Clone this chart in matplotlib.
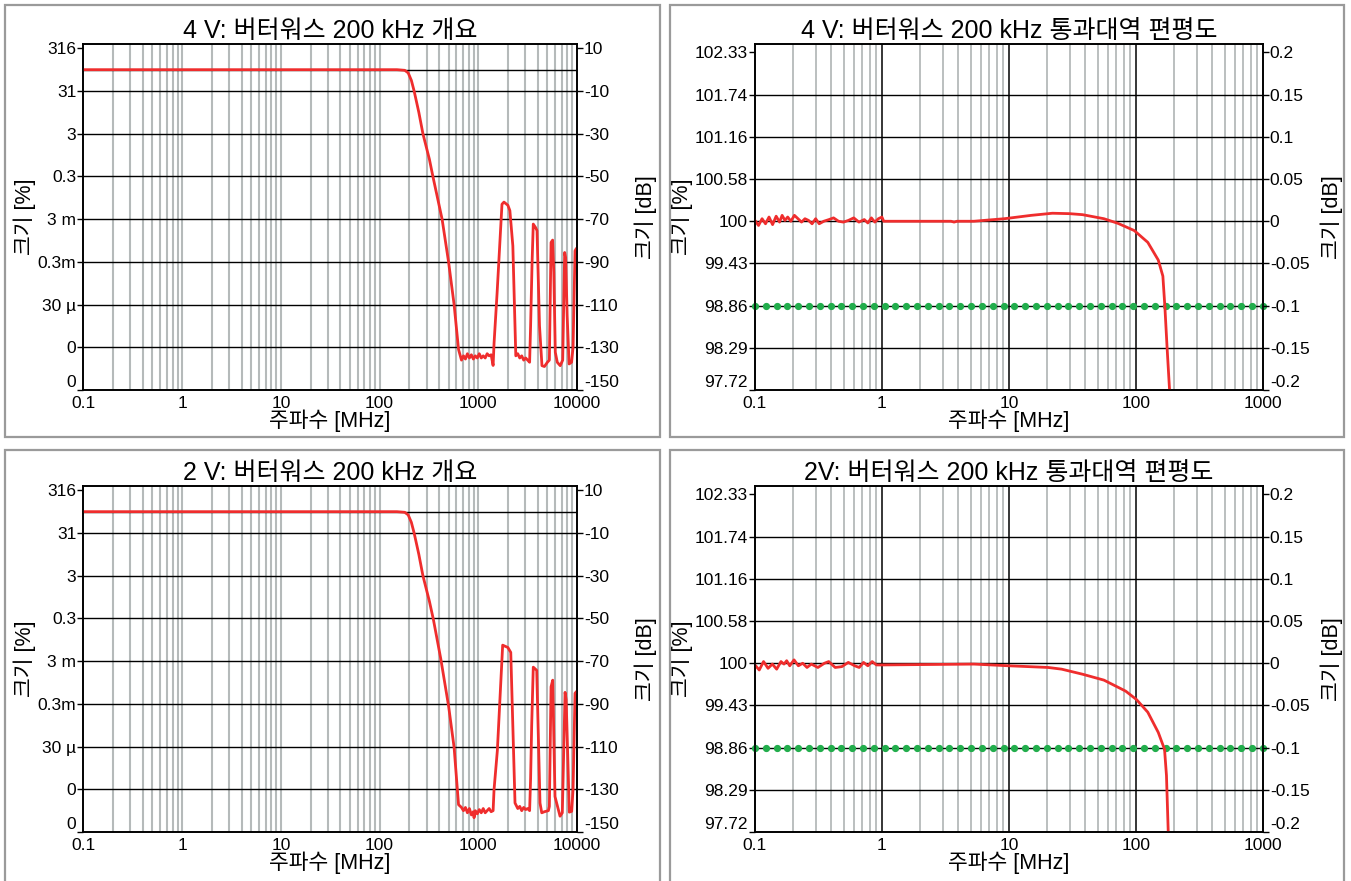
import numpy as np
import matplotlib
matplotlib.use("Agg")
from matplotlib import pyplot as plt
from matplotlib.patches import Rectangle

plt.rcParams['font.family'] = ['Liberation Sans', 'Noto Sans CJK KR']
plt.rcParams['axes.unicode_minus'] = False

# overview charts: frequency [MHz] vs magnitude [dB]
ov_ticks_db = [10, -10, -30, -50, -70, -90, -110, -130, -150]
ov_ticks_pct = ['316', '31', '3', '0.3', '3 m', '0.3m', '30 µ', '0', '0']
ov_xticks = [0.1, 1, 10, 100, 1000, 10000]
ov_xlabels = ['0.1', '1', '10', '100', '1000', '10000']

f_ov_4v = [0.1, 150, 180, 195, 210, 224, 250, 275, 320, 347, 430, 500, 569, 631, 676,
           708, 741, 776, 813, 851, 891, 933, 977, 1023, 1072, 1122, 1175, 1230, 1288, 1349, 1413,
           1445, 1549, 1738, 1820, 1995, 2089, 2239, 2399,
           2512, 2630, 2754, 2884, 3020, 3162, 3311,
           3388, 3508, 3606, 3802, 3936, 4169, 4416, 4677, 5012, 5248,
           5458, 5662, 5821, 6026, 6310, 6761, 7161,
           7499, 7674, 7943, 8318, 8810, 9120, 9550, 9772]
db_ov_4v = [0, 0, -0.3, -1.5, -5, -10, -20, -30, -42, -50, -70, -90, -110, -131, -136,
            -134, -135.5, -133, -135, -133.5, -135.5, -134, -135, -133, -135, -134, -135, -133, -134, -133.5, -138.5,
            -128, -105, -63, -62, -63.5, -66, -82.5, -134,
            -133, -135, -134, -136, -135, -136, -137,
            -120, -90, -72.3, -73.9, -75.4, -119.9, -138.6, -139, -137, -136,
            -80.9, -79.8, -95, -132.3, -137, -138.6, -136,
            -85.6, -88, -115, -137.8, -137, -130, -84.8, -84]

f_ov_2v = [0.1, 150, 180, 195, 210, 224, 250, 275, 320, 351, 417, 501, 569, 631, 676,
           708, 741, 776, 813, 851, 891, 906, 933, 977, 1023, 1072, 1122, 1175, 1230, 1288, 1349, 1413,
           1445, 1560, 1766, 1995, 2133, 2355,
           2512, 2630, 2754, 2884, 3020, 3162, 3311,
           3388, 3475, 3606, 3908, 4217, 4395, 4677, 5129, 5248,
           5458, 5675, 5984, 6730, 7096,
           7568, 7762, 8356, 8831, 9120, 9550, 9772]
db_ov_2v = [0, 0, -0.3, -1.5, -5, -10, -20, -30, -42, -50.5, -68.9, -91.2, -110.4, -137.2, -138.5,
            -140, -138.5, -141, -139, -142, -140.5, -143.3, -140, -141.5, -139.5, -141, -139, -141, -140, -139, -140.5, -140,
            -130, -111.9, -62.5, -63.6, -65.9, -136.4,
            -139, -138, -140, -138.5, -139.5, -139, -140,
            -125, -100, -72.8, -74.3, -136.4, -141, -140.5, -140, -138,
            -82, -78.9, -133.4, -142.6, -141,
            -84.6, -88, -140.7, -140.3, -130, -85, -84.5]

# passband flatness charts
fl_ticks_db = [0.2, 0.15, 0.1, 0.05, 0, -0.05, -0.1, -0.15, -0.2]
fl_ticks_pct = ['102.33', '101.74', '101.16', '100.58', '100', '99.43', '98.86', '98.29', '97.72']
fl_ticks_db_lbl = ['0.2', '0.15', '0.1', '0.05', '0', '-0.05', '-0.1', '-0.15', '-0.2']
fl_xticks = [0.1, 1, 10, 100, 1000]
fl_xlabels = ['0.1', '1', '10', '100', '1000']
flat_limit_db = -0.1

f_fl_4v = [0.1, 0.1067, 0.1138, 0.1211, 0.1291, 0.1377, 0.1469, 0.1563, 0.1637, 0.1722, 0.1811,
           0.1919, 0.2046, 0.2183, 0.2328, 0.2477, 0.2642, 0.2818, 0.3006, 0.3206, 0.3483, 0.3828,
           0.4159, 0.455, 0.4977, 0.5445, 0.5998, 0.6592, 0.7261, 0.7745, 0.826, 0.879, 0.9376, 1.0,
           1.033, 3.5, 3.7, 3.9, 5.3, 9.2, 15, 22, 30, 38, 56, 72, 97, 124, 150, 163, 169, 176, 184, 190]
db_fl_4v = [0.001, -0.005, 0.003, -0.003, 0.005, -0.004, 0.006, -0.001, 0.007, 0.001, 0.005,
            0.0, 0.007, 0.003, -0.001, 0.003, 0.001, -0.003, 0.003, -0.003, 0.0, 0.002,
            0.004, 0.0, -0.001, 0.001, 0.004, -0.001, 0.002, -0.002, 0.004, -0.001, 0.003, 0.005,
            0.0, 0.0, -0.001, 0.0, 0.0, 0.003, 0.007, 0.0095, 0.009, 0.0078, 0.003, -0.0024, -0.011,
            -0.025, -0.046, -0.065, -0.101, -0.15, -0.2, -0.25]

f_fl_2v = [0.1, 0.1081, 0.1169, 0.1268, 0.1371, 0.1483, 0.1603, 0.1694, 0.1778, 0.1879, 0.2032,
           0.2198, 0.2377, 0.257, 0.278, 0.3133, 0.3524, 0.3811, 0.4285, 0.4831, 0.5433, 0.6109,
           0.6622, 0.7161, 0.7745, 0.8375, 0.9057, 1.0,
           5.3, 10, 20.4, 26, 38, 56, 83, 101, 124, 150, 168, 174, 180, 185]
db_fl_2v = [-0.002, -0.008, 0.002, -0.006, -0.001, -0.007, 0.002, -0.001, 0.003, -0.003, 0.004,
            -0.003, 0.0, -0.005, -0.001, -0.005, 0.0, 0.002, -0.005, -0.004, 0.001, -0.003,
            -0.005, 0.001, -0.003, 0.002, -0.002, -0.002,
            -0.001, -0.003, -0.005, -0.007, -0.013, -0.02, -0.033, -0.043, -0.058, -0.082,
            -0.102, -0.133, -0.204, -0.26]

RED = '#ef2d2d'
GRAY = '#b5baba'
GREEN = '#22ad4c'
TICK_FS = 12.5
LABEL_FS = 15.5
TITLE_FS = 18

fig = plt.figure(figsize=(13.51, 8.81), dpi=100)

# panel frames
for x0, y0, w, h in [(5, 5, 655, 432), (670, 5, 674, 432), (5, 450, 655, 440), (670, 450, 674, 440)]:
    fig.add_artist(Rectangle((x0 / 1351, 1 - (y0 + h) / 881), w / 1351, h / 881,
                             transform=fig.transFigure, fill=False, edgecolor='#9a9a9a', lw=1.6))


def decade_lines(lo, hi):
    out = []
    e = lo
    while e < hi:
        for m in range(1, 10):
            out.append(m * 10.0 ** e)
        e += 1
    return out


def lift_bottom_label(axis_obj, ticks):
    lowest = min(ticks)
    for lbl in axis_obj.get_yticklabels():
        if abs(lbl.get_position()[1] - lowest) < 1e-9:
            lbl.set_va('bottom')


def setup_axes(ax, ylim, ticks, left_lbls, right_lbls, xticks, xlbls, title, rpad):
    ax.set_xscale('log')
    ax.set_xlim(xticks[0], xticks[-1])
    ax.set_ylim(*ylim)
    ax.set_xticks(xticks)
    ax.set_xticklabels(xlbls, fontsize=TICK_FS)
    ax.xaxis.set_minor_locator(matplotlib.ticker.NullLocator())
    ax.set_yticks(ticks)
    ax.set_yticklabels(left_lbls, fontsize=TICK_FS)
    ax.tick_params(axis='x', length=0, pad=4)
    ax.tick_params(axis='y', length=4, width=1, pad=1)
    lift_bottom_label(ax, ticks)
    ax.set_xlabel('주파수 [MHz]', fontsize=LABEL_FS, labelpad=-1)
    ax.set_ylabel('크기 [%]', fontsize=LABEL_FS, labelpad=1)
    ax.set_title(title, fontsize=TITLE_FS, pad=4)
    for s in ax.spines.values():
        s.set_linewidth(1.2)
    ax2 = ax.twinx()
    ax2.set_ylim(*ylim)
    ax2.set_yticks(ticks)
    ax2.set_yticklabels(right_lbls, fontsize=TICK_FS)
    ax2.tick_params(axis='y', length=4, width=1, pad=1)
    lift_bottom_label(ax2, ticks)
    ax2.set_ylabel('크기 [dB]', fontsize=LABEL_FS, labelpad=rpad)
    for s in ax2.spines.values():
        s.set_linewidth(1.2)
    return ax2


def draw_overview(rect, title, f, db):
    ax = fig.add_axes(rect)
    for x in decade_lines(-1, 4):
        if x > 0.1:
            ax.axvline(x, color=GRAY, lw=1.5, zorder=1)
    for y in [0] + ov_ticks_db[1:-1]:
        ax.axhline(y, color='black', lw=1.0, zorder=2)
    ax.plot(f, db, color=RED, lw=2.0, zorder=4, solid_joinstyle='round')
    setup_axes(ax, (-150, 12), ov_ticks_db, ov_ticks_pct, [str(t) for t in ov_ticks_db],
               ov_xticks, ov_xlabels, title, 11)


def draw_flatness(rect, title, f, db):
    ax = fig.add_axes(rect)
    for x in decade_lines(-1, 3):
        if x > 0.1:
            m = round(x / 10 ** np.floor(np.log10(x) + 1e-9))
            if m == 1:
                ax.axvline(x, color='black', lw=1.1, zorder=2)
            else:
                ax.axvline(x, color=GRAY, lw=1.3, zorder=1)
    for y in fl_ticks_db[1:-1]:
        ax.axhline(y, color='black', lw=1.0, zorder=2)
    gx = np.geomspace(0.1, 1000, 48)
    ax.plot(gx, [flat_limit_db] * len(gx), linestyle='none', marker='o', ms=4.2,
            color=GREEN, zorder=3, clip_on=False)
    ax.plot(f, db, color=RED, lw=2.0, zorder=4, solid_joinstyle='round')
    setup_axes(ax, (-0.2, 0.21), fl_ticks_db, fl_ticks_pct, fl_ticks_db_lbl,
               fl_xticks, fl_xlabels, title, 8)


draw_overview([0.0617, 0.5573, 0.3654, 0.3927], '4 V: 버터워스 200 kHz 개요', f_ov_4v, db_ov_4v)
draw_flatness([0.5588, 0.5573, 0.376, 0.3927], '4 V: 버터워스 200 kHz 통과대역 편평도', f_fl_4v, db_fl_4v)
draw_overview([0.0617, 0.0556, 0.3654, 0.3927], '2 V: 버터워스 200 kHz 개요', f_ov_2v, db_ov_2v)
draw_flatness([0.5588, 0.0556, 0.376, 0.3927], '2V: 버터워스 200 kHz 통과대역 편평도', f_fl_2v, db_fl_2v)

fig.savefig('out.png', dpi=100)
